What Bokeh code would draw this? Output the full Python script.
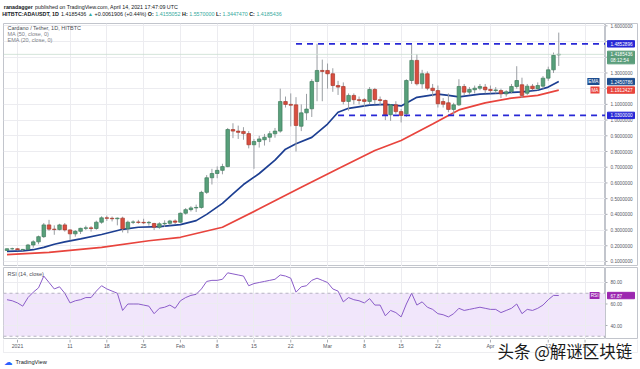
import numpy as np
import pandas as pd
from bokeh.plotting import figure
from bokeh.layouts import column, row
from bokeh.models import (ColumnDataSource, Range1d, FixedTicker, Label, Span, BoxAnnotation, Grid)
from bokeh.core.properties import value
from bokeh.embed import file_html
from bokeh.resources import INLINE

FONT = "Liberation Sans"

# ---------------- data ----------------
dates = pd.date_range("2020-12-30", "2021-04-14", freq="D")
opens = [0.170, 0.181, 0.181, 0.175, 0.177, 0.205, 0.225, 0.258, 0.333, 0.306, 0.303, 0.333,
         0.301, 0.276, 0.292, 0.311, 0.314, 0.310, 0.350, 0.378, 0.375, 0.372, 0.376, 0.308,
         0.350, 0.351, 0.349, 0.346, 0.342, 0.318, 0.340, 0.343, 0.358,
         0.350, 0.407, 0.430, 0.441, 0.444, 0.540, 0.633, 0.660, 0.680, 0.704, 0.940, 0.930,
         0.928, 0.914, 0.843, 0.864, 0.875, 0.891, 0.913, 0.930, 1.118, 1.100, 1.097, 0.961,
         1.046, 1.072, 1.246, 1.316,
         1.316, 1.295, 1.220, 1.214, 1.119, 1.157, 1.130, 1.130, 1.119, 1.195, 1.130, 1.125,
         1.034, 1.097, 1.054, 1.040, 1.252, 1.380, 1.231, 1.295, 1.203, 1.188, 1.118, 1.110,
         1.068, 1.097, 1.214, 1.178, 1.193, 1.203, 1.210,
         1.195, 1.188, 1.188, 1.167, 1.180, 1.214, 1.225, 1.171, 1.216, 1.200, 1.216, 1.267,
         1.320, 1.4155052]
highs = [0.184, 0.188, 0.185, 0.180, 0.212, 0.235, 0.265, 0.345, 0.365, 0.330, 0.340, 0.345,
         0.305, 0.300, 0.315, 0.328, 0.325, 0.360, 0.388, 0.392, 0.386, 0.380, 0.385, 0.360,
         0.362, 0.365, 0.372, 0.358, 0.346, 0.350, 0.362, 0.365, 0.368,
         0.412, 0.440, 0.452, 0.462, 0.550, 0.650, 0.690, 0.705, 0.722, 0.950, 0.980, 0.965,
         0.955, 0.930, 0.880, 0.900, 0.912, 0.930, 0.950, 1.200, 1.150, 1.170, 1.146, 1.100,
         1.167, 1.260, 1.486, 1.385,
         1.360, 1.330, 1.250, 1.240, 1.170, 1.170, 1.150, 1.140, 1.210, 1.205, 1.150, 1.130,
         1.100, 1.120, 1.070, 1.260, 1.480, 1.420, 1.320, 1.310, 1.230, 1.220, 1.140, 1.170,
         1.110, 1.260, 1.230, 1.210, 1.220, 1.230, 1.230,
         1.220, 1.210, 1.200, 1.190, 1.230, 1.343, 1.270, 1.230, 1.230, 1.240, 1.280, 1.340,
         1.430, 1.5570000]
lows = [0.168, 0.175, 0.170, 0.165, 0.174, 0.188, 0.210, 0.250, 0.295, 0.270, 0.298, 0.290,
        0.235, 0.258, 0.275, 0.300, 0.290, 0.302, 0.340, 0.358, 0.355, 0.330, 0.285, 0.280,
        0.338, 0.340, 0.338, 0.328, 0.300, 0.308, 0.320, 0.330, 0.338,
        0.345, 0.398, 0.418, 0.415, 0.436, 0.530, 0.590, 0.630, 0.655, 0.700, 0.885, 0.880,
        0.875, 0.820, 0.690, 0.825, 0.838, 0.860, 0.888, 0.920, 1.080, 0.960, 0.800, 0.930,
        1.000, 1.020, 1.120, 1.120,
        1.200, 1.180, 1.160, 1.100, 1.060, 1.100, 1.100, 1.085, 1.100, 1.100, 1.095, 1.000,
        0.995, 1.040, 0.985, 1.020, 1.230, 1.220, 1.200, 1.190, 1.150, 1.080, 1.080, 1.050,
        1.030, 1.090, 1.160, 1.160, 1.170, 1.190, 1.170,
        1.170, 1.170, 1.140, 1.150, 1.170, 1.200, 1.140, 1.160, 1.190, 1.190, 1.200, 1.250,
        1.300, 1.3447470]
closes = [0.181, 0.181, 0.175, 0.177, 0.205, 0.225, 0.258, 0.333, 0.306, 0.303, 0.333, 0.301,
          0.276, 0.292, 0.311, 0.314, 0.310, 0.350, 0.378, 0.375, 0.372, 0.376, 0.308, 0.350,
          0.351, 0.349, 0.346, 0.349, 0.318, 0.340, 0.343, 0.358, 0.350,
          0.407, 0.430, 0.441, 0.444, 0.540, 0.633, 0.660, 0.680, 0.704, 0.940, 0.930, 0.922,
          0.914, 0.843, 0.864, 0.880, 0.891, 0.913, 0.930, 1.118, 1.100, 1.095, 0.966, 1.046,
          1.070, 1.246, 1.316, 1.310,
          1.295, 1.220, 1.210, 1.119, 1.157, 1.130, 1.125, 1.119, 1.195, 1.130, 1.125, 1.034,
          1.097, 1.054, 1.030, 1.252, 1.380, 1.231, 1.295, 1.203, 1.188, 1.104, 1.101, 1.068,
          1.097, 1.214, 1.178, 1.195, 1.203, 1.214, 1.193,
          1.188, 1.192, 1.167, 1.180, 1.214, 1.252, 1.157, 1.216, 1.200, 1.220, 1.267, 1.320,
          1.4123530, 1.4185436]

ema_dates = ["2020-12-30", "2021-01-02", "2021-01-04", "2021-01-06", "2021-01-08", "2021-01-10",
             "2021-01-13", "2021-01-17", "2021-01-21", "2021-01-24", "2021-01-28", "2021-02-01",
             "2021-02-04", "2021-02-06", "2021-02-09", "2021-02-11", "2021-02-13", "2021-02-16",
             "2021-02-19", "2021-02-21", "2021-02-23", "2021-02-26", "2021-03-01", "2021-03-03",
             "2021-03-05", "2021-03-09", "2021-03-12", "2021-03-15", "2021-03-18", "2021-03-22",
             "2021-03-24", "2021-03-26", "2021-03-30", "2021-04-03", "2021-04-07", "2021-04-10",
             "2021-04-12", "2021-04-14"]
ema_vals = [0.164, 0.168, 0.175, 0.190, 0.210, 0.225, 0.244, 0.272, 0.305, 0.318, 0.322, 0.335,
            0.360, 0.400, 0.470, 0.530, 0.590, 0.660, 0.745, 0.815, 0.850, 0.890, 0.975, 1.050,
            1.075, 1.095, 1.100, 1.090, 1.145, 1.165, 1.157, 1.148, 1.165, 1.172, 1.180, 1.190,
            1.210, 1.2450786]

ma_dates = ["2020-12-30", "2021-01-07", "2021-01-17", "2021-01-26", "2021-02-01", "2021-02-09",
            "2021-02-16", "2021-02-24", "2021-03-03", "2021-03-10", "2021-03-15", "2021-03-17",
            "2021-03-21", "2021-03-24", "2021-03-26", "2021-03-31", "2021-04-05", "2021-04-10",
            "2021-04-14"]
ma_vals = [0.144, 0.158, 0.190, 0.232, 0.254, 0.318, 0.435, 0.573, 0.690, 0.806, 0.870, 0.905,
           0.975, 1.030, 1.065, 1.110, 1.140, 1.157, 1.1912427]

rsi_vals = [64, 63, 61, 58, 66, 71, 75, 86, 80, 74, 76, 70, 61, 63, 64, 66, 66, 72, 77, 74,
            72, 70, 54, 60, 60, 60, 59, 58, 51, 56, 57, 59, 56,
            63, 66, 68, 69, 74, 81, 82, 82, 83, 89, 88, 87, 86, 77, 79, 80, 81, 82, 83, 87, 86,
            84, 71, 76, 77, 82, 84, 82,
            80, 74, 72, 62, 66, 64, 63, 61, 65, 59, 59, 49, 54, 52, 48, 60, 70, 59, 62, 57, 55,
            51, 50, 48, 51, 56, 54, 55, 56, 57, 56,
            55, 55, 52, 54, 56, 60, 51, 55, 54, 56, 59, 64, 68, 67.87]

level_values = [1.4852896, 1.0300000]
level_starts = ["2021-02-23", "2021-03-03"]

price_ticks = [0.1, 0.2, 0.3, 0.4, 0.5, 0.6, 0.7, 0.8, 0.9, 1.0, 1.1, 1.2, 1.3, 1.4, 1.5, 1.6]
rsi_ticks = [40, 60, 80]
time_ticks = ["2021-01-01", "2021-01-11", "2021-01-18", "2021-01-25", "2021-02-01", "2021-02-08",
              "2021-02-15", "2021-02-22", "2021-03-01", "2021-03-08", "2021-03-15", "2021-03-22",
              "2021-04-01", "2021-04-12", "2021-04-19"]
time_labels = ["2021", "11", "18", "25", "Feb", "8", "15", "22", "Mar", "8", "15", "22",
               "Apr", "12", "19"]
countdown = "08:12:54"

# ---------------- helpers / styles ----------------
ORIGIN = pd.Timestamp("2021-01-01")


def to_day(d):
    return (pd.Timestamp(d) - ORIGIN) / pd.Timedelta(days=1)


day = np.array([to_day(d) for d in dates])
tick_days = [to_day(t) for t in time_ticks]

PX_PER_DAY = 5.255
X_AT_JAN1 = 17.0
FRAME_L, FRAME_R = 3, 605
X0 = (FRAME_L - X_AT_JAN1) / PX_PER_DAY
X1 = (FRAME_R - X_AT_JAN1) / PX_PER_DAY
xr = Range1d(X0, X1)
yr_price = Range1d(0.0681, 1.6149)
yr_rsi = Range1d(26.98, 93.95)
MAIN_H, RSI_H = 243, 72

UP, UPL = "#58a07b", "#3f7d5c"
DN, DNL = "#d94d3f", "#a8392d"
WICK = "#9a9ea3"
BLUE = "#2828d6"
EMA_C = "#1d3f92"
MA_C = "#e8443d"
GREEN_B = "#5a9d7b"
PURPLE = "#9c27b0"
GRID = "#ececf0"
OUTLINE = "#c2c5cc"
AXIS_TXT = "#55585f"
DARK = "#131722"
TEAL = "#35a99d"

ARIAL = {' ': 278, '.': 278, ':': 278, ',': 278, '+': 584, '(': 333, ')': 333, '%': 889,
         '\u25b2': 990}
ARIAL_B = {' ': 278, '.': 278, ':': 333, ',': 278, 'A': 722, 'B': 722, 'C': 722, 'D': 722,
           'H': 722, 'I': 278, 'O': 778, 'S': 667, 'T': 611, 'U': 722, 'L': 611}


def text_w(s, bold, size):
    tab = ARIAL_B if bold else ARIAL
    return sum(tab.get(ch, 556) for ch in s) / 1000.0 * size


def bare(fig):
    fig.background_fill_color = "white"
    fig.border_fill_color = "white"
    fig.outline_line_color = None
    for g in fig.grid:
        g.visible = False


def slabel(fig, x, y, text, size, color, bold=False, font=FONT, align="left"):
    fig.add_layout(Label(x=x, y=y, x_units="screen", y_units="screen", text=text,
                         text_font=font, text_font_size=f"{size}px",
                         text_font_style="bold" if bold else "normal", text_color=color,
                         text_baseline="middle", text_align=align))


# ---------------- header strip ----------------
hdr = figure(frame_width=640, frame_height=23, min_border=0, x_range=Range1d(0, 640),
             y_range=Range1d(0, 23), output_backend="svg", toolbar_location=None,
             x_axis_location=None, y_axis_location=None)
bare(hdr)
hs = 5.35
x = 3.3
slabel(hdr, x, 17, "ranadagger", hs, DARK, bold=True)
x += text_w("ranadagger", True, hs) + text_w(" ", False, hs)
slabel(hdr, x, 17, "published on TradingView.com, April 14, 2021 17:47:09 UTC", hs, DARK)

pct = (closes[-1] - closes[-2]) / closes[-2] * 100
segs = [("HITBTC:ADAUSDT, 1D", True, DARK),
        (f"{closes[-1]:.7f}", False, DARK),
        ("\u25b2", False, TEAL),
        (f"+{closes[-1] - closes[-2]:.7f} (+{pct:.2f}%)", False, DARK),
        ("O:", True, DARK), (f"{opens[-1]:.7f}", False, TEAL),
        ("H:", True, DARK), (f"{highs[-1]:.7f}", False, TEAL),
        ("L:", True, DARK), (f"{lows[-1]:.7f}", False, TEAL),
        ("C:", True, DARK), (f"{closes[-1]:.7f}", False, TEAL)]
x = 1.7
for txt, bold, col in segs:
    slabel(hdr, x, 9.5, txt, hs, col, bold=bold)
    x += text_w(txt, bold, hs) + text_w(" ", False, hs)

# ---------------- main pane ----------------
p = figure(frame_width=FRAME_R - FRAME_L, frame_height=MAIN_H, min_border_left=FRAME_L,
           min_border_right=0, min_border_top=0, min_border_bottom=0, x_range=xr,
           y_range=yr_price, output_backend="svg", toolbar_location=None,
           x_axis_location=None, y_axis_location=None)
bare(p)
p.outline_line_color = OUTLINE
p.add_layout(Grid(dimension=0, ticker=FixedTicker(ticks=tick_days), grid_line_color=GRID))
p.add_layout(Grid(dimension=1, ticker=FixedTicker(ticks=price_ticks), grid_line_color=GRID))

O = np.array(opens)
H = np.array(highs)
L = np.array(lows)
C = np.array(closes)
up = C >= O
src = ColumnDataSource(dict(x=day, top=np.maximum(O, C), bottom=np.minimum(O, C), high=H, low=L,
                            fill=np.where(up, UP, DN), line=np.where(up, UPL, DNL)))

p.add_layout(Span(location=closes[-1], dimension="width", line_color="#c9ddd1", line_width=0.8))
p.line([to_day(d) for d in ma_dates], ma_vals, line_color=MA_C, line_width=1.7)
p.line([to_day(d) for d in ema_dates], ema_vals, line_color=EMA_C, line_width=1.7)
p.segment(x0="x", y0="low", x1="x", y1="high", source=src, line_color=WICK, line_width=1)
p.vbar(x="x", width=0.68, top="top", bottom="bottom", source=src, fill_color="fill",
       line_color="line", line_width=0.7)

lvl = ColumnDataSource(dict(x0=[to_day(s) for s in level_starts], x1=[X1] * len(level_values),
                            y=level_values))
p.segment(x0="x0", y0="y", x1="x1", y1="y", source=lvl, line_color=BLUE, line_width=1.8,
          line_dash="6 5")

for txt, yy, col in [("Cardano / Tether, 1D, HITBTC", MAIN_H - 4.3, "#4a4d55"),
                     ("MA (50, close, 0)", MAIN_H - 10.3, "#7d8088"),
                     ("EMA (20, close, 0)", MAIN_H - 16.0, "#7d8088")]:
    slabel(p, 4, yy, txt, 5.5, col)


def tag(fig, text, yv, bg):
    fig.add_layout(Label(x=FRAME_R - FRAME_L - 6, y=yv, x_units="screen", y_units="data",
                         text=text, text_font=FONT, text_font_size="4.7px", text_color="white",
                         text_baseline="middle", text_align="right",
                         background_fill_color=bg, background_fill_alpha=1.0, padding=1))


tag(p, "EMA", ema_vals[-1], "#1d4d8f")
tag(p, "MA", ma_vals[-1], MA_C)


# ---------------- price scale strip ----------------
def scale_strip(yrange, ticks, fmt, height, top_border):
    s = figure(frame_width=32, frame_height=height, min_border_left=0, min_border_right=3,
               min_border_top=top_border, min_border_bottom=0, x_range=Range1d(0, 32),
               y_range=yrange, output_backend="svg", toolbar_location=None,
               x_axis_location=None, y_axis_location=None)
    bare(s)
    s.outline_line_color = OUTLINE
    ts = ColumnDataSource(dict(y=ticks, t=[fmt % v for v in ticks]))
    s.segment(x0=0, y0="y", x1=2, y1="y", source=ts, line_color="#a9acb4", line_width=1)
    s.text(x=5, y="y", text="t", source=ts, text_font=value(FONT), text_font_size="4.7px",
           text_color=AXIS_TXT, text_baseline="middle", text_align="left")
    return s


def badges(s, yrange, height, items):
    per_px = (yrange.end - yrange.start) / height
    bs = ColumnDataSource(dict(y=[it[1] - it[3] * per_px for it in items],
                               t=[it[0] for it in items], c=[it[2] for it in items]))
    s.rect(x=15.5, y="y", width=27, height=6.4, height_units="screen", source=bs,
           fill_color="c", line_color="c")
    s.text(x=5, y="y", text="t", source=bs, text_font=value(FONT), text_font_size="4.7px",
           text_color="white", text_baseline="middle", text_align="left")


ps = scale_strip(yr_price, price_ticks, "%.7f", MAIN_H, 0)
badges(ps, yr_price, MAIN_H, [
    (f"{level_values[0]:.7f}", level_values[0], BLUE, 0),
    (f"{level_values[1]:.7f}", level_values[1], BLUE, 0),
    (f"{closes[-1]:.7f}", closes[-1], GREEN_B, 0),
    (countdown, closes[-1], GREEN_B, 6.3),
    (f"{ema_vals[-1]:.7f}", ema_vals[-1], "#1d4d8f", 0),
    (f"{ma_vals[-1]:.7f}", ma_vals[-1], MA_C, 0),
])

# ---------------- RSI pane ----------------
r = figure(frame_width=FRAME_R - FRAME_L, frame_height=RSI_H, min_border_left=FRAME_L,
           min_border_right=0, min_border_top=1, min_border_bottom=0, x_range=xr,
           y_range=yr_rsi, output_backend="svg", toolbar_location=None,
           x_axis_location=None, y_axis_location=None)
bare(r)
r.outline_line_color = OUTLINE
r.add_layout(BoxAnnotation(bottom=30, top=70, fill_color="#f1e6fb", fill_alpha=1.0,
                           line_color=None, level="underlay"))
r.add_layout(Grid(dimension=0, ticker=FixedTicker(ticks=tick_days), grid_line_color=GRID))
r.add_layout(Grid(dimension=1, ticker=FixedTicker(ticks=rsi_ticks), grid_line_color=GRID))
for lv in (70, 30):
    r.add_layout(Span(location=lv, dimension="width", line_color="#a6a3b3", line_width=0.8,
                      line_dash="3 3"))
r.line(day, rsi_vals, line_color="#8a5cc8", line_width=1)
slabel(r, 4, RSI_H - 6, "RSI (14, close)", 5.5, "#4a4d55")
tag(r, "RSI", rsi_vals[-1], PURPLE)

rs = scale_strip(yr_rsi, rsi_ticks, "%.2f", RSI_H, 1)
badges(rs, yr_rsi, RSI_H, [(f"{rsi_vals[-1]:.2f}", rsi_vals[-1], PURPLE, 0)])

# ---------------- time scale + footer ----------------
XB0 = (0 - X_AT_JAN1) / PX_PER_DAY
XB1 = (640 - X_AT_JAN1) / PX_PER_DAY
b = figure(frame_width=640, frame_height=30, min_border=0, x_range=Range1d(XB0, XB1),
           y_range=Range1d(0, 30), output_backend="svg", toolbar_location=None,
           x_axis_location=None, y_axis_location=None)
bare(b)
b.add_layout(BoxAnnotation(left=3, right=637, bottom=17, top=31, left_units="screen",
                           right_units="screen", bottom_units="screen", top_units="screen",
                           fill_alpha=0, line_color=OUTLINE, line_width=1))
tsrc = ColumnDataSource(dict(x=tick_days, t=time_labels))
b.segment(x0="x", y0=30, x1="x", y1=27, source=tsrc, line_color="#a9acb4", line_width=1)
b.text(x="x", y=23.3, text="t", source=tsrc, text_font=value(FONT), text_font_size="5.2px",
       text_color=AXIS_TXT, text_baseline="middle", text_align="center")
slabel(b, 3.5, 8, "\u2601", 8.5, "#2962ff", font="DejaVu Sans")
slabel(b, 15, 8, "TradingView", 5.7, DARK)
slabel(b, 497, 19, "头条 @解谜区块链", 16.5, "#1a1a1a", font="Noto Sans CJK SC")

layout = column(hdr, row(p, ps, spacing=0), row(r, rs, spacing=0), b, spacing=0)
open("out.html", "w").write(file_html(layout, INLINE))
